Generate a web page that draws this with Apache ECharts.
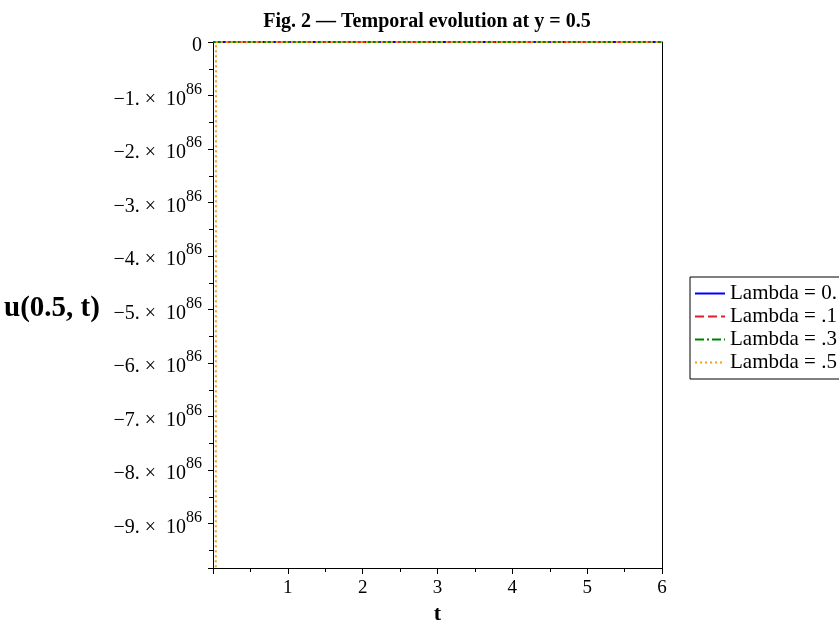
<!DOCTYPE html>
<html>
<head>
<meta charset="utf-8">
<script src="https://cdn.jsdelivr.net/npm/echarts@6/dist/echarts.min.js"></script>
<style>
  html, body {margin: 0; padding: 0; background: #fff;}
  #chart {width: 839px; height: 626px;}
</style>
</head>
<body>
<div id="chart"></div>
<script>
// time samples and values of u(0.5, t) for each lambda
const tFlat = [0, 1, 2, 3, 4, 5, 6];
const uLambda0 = [0, 0, 0, 0, 0, 0, 0];
const uLambda1 = [0, 0, 0, 0, 0, 0, 0];
const uLambda3 = [0, 0, 0, 0, 0, 0, 0];
// lambda = .5 blows up right at t ~ 0
const tLambda5 = [0.035, 0.04, 1, 2, 3, 4, 5, 6];
const uLambda5 = [-2e87, 0, 0, 0, 0, 0, 0, 0];
const seriesNames = ['Lambda = 0.', 'Lambda = .1', 'Lambda = .3', 'Lambda = .5'];
const xTicks = [1, 2, 3, 4, 5, 6];

const yMin = -9.83e86;
const serif = 'Liberation Serif';

const pair = (ts, us) => ts.map((t, i) => [t, us[i]]);

const chart = echarts.init(document.getElementById('chart'));

const yLabel = val => {
  if (Math.abs(val) < 1e80) return '{b|0}';
  const k = Math.round(-val / 1e86);
  return '{b|\u2212' + k + '. \u00d7  10}{s|86}';
};

chart.setOption({
  animation: false,
  backgroundColor: '#fff',
  title: {
    text: 'Fig. 2 \u2014 Temporal evolution at y = 0.5',
    left: 422,
    textAlign: 'center',
    top: 7,
    textStyle: {fontFamily: serif, fontWeight: 'bold', fontSize: 20, color: '#000'}
  },
  grid: {left: 213, right: 177, top: 42, bottom: 58, outerBoundsMode: 'none'},
  legend: {
    orient: 'vertical',
    left: 690,
    top: 277,
    padding: [6, 6, 6, 4],
    itemWidth: 30,
    itemHeight: 12,
    itemGap: 2,
    borderColor: '#000',
    borderWidth: 1,
    borderRadius: 0,
    backgroundColor: '#fff',
    itemStyle: {opacity: 0},
    textStyle: {fontFamily: serif, fontSize: 21, color: '#000'},
    data: seriesNames
  },
  xAxis: [
    {
      type: 'value',
      min: 0,
      max: 6,
      interval: 1,
      position: 'bottom',
      axisLine: {onZero: false, lineStyle: {color: '#000', width: 1}},
      axisTick: {length: 6, lineStyle: {color: '#000'}},
      minorTick: {show: true, splitNumber: 2, length: 4, lineStyle: {color: '#000'}},
      splitLine: {show: false},
      axisLabel: {
        margin: 11,
        fontFamily: serif,
        fontSize: 19,
        color: '#000',
        formatter: v => (xTicks.includes(v) ? String(v) : '')
      },
      name: 't',
      nameLocation: 'middle',
      nameGap: 33,
      nameTextStyle: {fontFamily: serif, fontWeight: 'bold', fontSize: 22, color: '#000'}
    },
    {
      type: 'value',
      min: 0,
      max: 6,
      position: 'top',
      axisLine: {onZero: false, lineStyle: {color: '#000', width: 1}},
      axisTick: {show: false},
      axisLabel: {show: false},
      splitLine: {show: false}
    }
  ],
  yAxis: [
    {
      type: 'value',
      min: yMin,
      max: 0,
      splitNumber: 10,
      axisLine: {show: true, onZero: false, lineStyle: {color: '#000', width: 1}},
      axisTick: {length: 5, lineStyle: {color: '#000'}},
      minorTick: {show: true, splitNumber: 2, length: 4, lineStyle: {color: '#000'}},
      splitLine: {show: false},
      axisLabel: {
        margin: 11,
        showMinLabel: false,
        formatter: yLabel,
        color: '#000',
        rich: {
          b: {fontFamily: serif, fontSize: 20, color: '#000', lineHeight: 28, verticalAlign: 'bottom'},
          s: {fontFamily: serif, fontSize: 16, color: '#000', lineHeight: 28, verticalAlign: 'top'}
        }
      }
    },
    {
      type: 'value',
      min: yMin,
      max: 0,
      position: 'right',
      axisLine: {show: true, onZero: false, lineStyle: {color: '#000', width: 1}},
      axisTick: {show: false},
      axisLabel: {show: false},
      splitLine: {show: false}
    }
  ],
  graphic: [
    {
      type: 'text',
      left: 4,
      top: 294,
      style: {
        text: 'u(0.5, t)',
        fontFamily: serif,
        fontWeight: 'bold',
        fontSize: 29,
        fill: '#000'
      }
    }
  ],
  series: [
    {name: seriesNames[0], data: pair(tFlat, uLambda0), color: '#0000ff', lineStyle: {type: 'solid'}},
    {name: seriesNames[1], data: pair(tFlat, uLambda1), color: '#e0202a', lineStyle: {type: [9, 4]}},
    {name: seriesNames[2], data: pair(tFlat, uLambda3), color: '#008000', lineStyle: {type: [9, 3, 2, 3]}},
    {name: seriesNames[3], data: pair(tLambda5, uLambda5), color: '#f5a010', lineStyle: {type: [2, 3]}}
  ].map(s => ({
    ...s,
    type: 'line',
    symbol: 'none',
    clip: true,
    lineStyle: {...s.lineStyle, width: 2}
  }))
});
</script>
</body>
</html>
